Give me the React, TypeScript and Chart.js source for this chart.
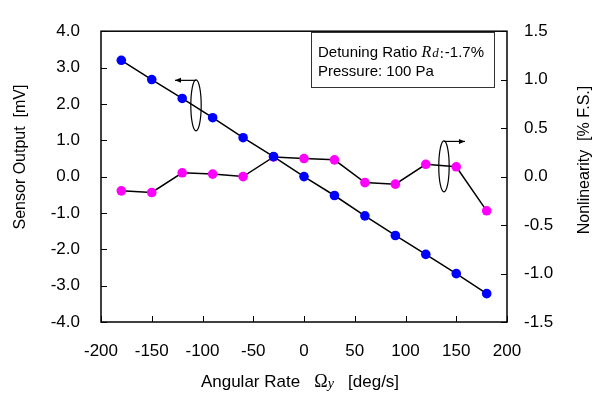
import React, { useEffect, useRef } from "react";
import { Chart, registerables } from "chart.js";

Chart.register(...registerables);

const ANGULAR_RATE = [-180, -150, -120, -90, -60, -30, 0, 30, 60, 90, 120, 150, 180];
const SENSOR_OUTPUT = [3.2, 2.67, 2.15, 1.62, 1.07, 0.55, 0.0, -0.52, -1.08, -1.62, -2.14, -2.67, -3.22];
const NONLINEARITY = [-0.147, -0.164, 0.039, 0.026, 0.0, 0.203, 0.186, 0.173, -0.062, -0.078, 0.127, 0.101, -0.353];

const X_TICKS = [-200, -150, -100, -50, 0, 50, 100, 150, 200];
const LEFT_TICKS = [-4, -3, -2, -1, 0, 1, 2, 3, 4];
const RIGHT_TICKS = [-1.5, -1.0, -0.5, 0, 0.5, 1.0, 1.5];

// annotation ellipses (data coordinates) and arrow direction
const LEFT_MARK = { x: -106.4, y: 1.96, axis: "y", dir: -1 };
const RIGHT_MARK = { x: 137.9, y: 0.105, axis: "y1", dir: 1 };

const LEGEND_LINE2 = "Pressure: 100 Pa";

const SANS = "'Liberation Sans', Arial, sans-serif";
const SERIF = "'Liberation Serif', 'Times New Roman', serif";

const decorPlugin = {
  id: "decor",
  afterDraw(chart: any) {
    const { ctx, chartArea, scales } = chart;
    const { left, right, top, bottom } = chartArea;
    ctx.save();
    // frame
    ctx.strokeStyle = "#000";
    ctx.lineWidth = 1.5;
    ctx.strokeRect(left, top, right - left, bottom - top);
    // inward ticks
    ctx.lineWidth = 1;
    ctx.beginPath();
    LEFT_TICKS.forEach((v) => {
      const y = Math.round(scales.y.getPixelForValue(v)) + 0.5;
      ctx.moveTo(left, y);
      ctx.lineTo(left + 6, y);
    });
    RIGHT_TICKS.forEach((v) => {
      const y = Math.round(scales.y1.getPixelForValue(v)) + 0.5;
      ctx.moveTo(right, y);
      ctx.lineTo(right - 6, y);
    });
    X_TICKS.forEach((v) => {
      const x = Math.round(scales.x.getPixelForValue(v)) + 0.5;
      ctx.moveTo(x, bottom);
      ctx.lineTo(x, bottom - 6);
    });
    ctx.stroke();

    // ellipses with arrows
    [LEFT_MARK, RIGHT_MARK].forEach((m) => {
      const cx = scales.x.getPixelForValue(m.x);
      const cy = scales[m.axis].getPixelForValue(m.y);
      const rx = 5.2;
      const ry = 25.5;
      ctx.lineWidth = 1.2;
      ctx.beginPath();
      ctx.ellipse(cx, cy, rx, ry, 0, 0, Math.PI * 2);
      ctx.stroke();
      const ty = cy - ry + 0.5;
      const tipX = cx + m.dir * 21;
      ctx.beginPath();
      ctx.moveTo(cx, ty);
      ctx.lineTo(tipX, ty);
      ctx.stroke();
      ctx.beginPath();
      ctx.moveTo(tipX, ty);
      ctx.lineTo(tipX - m.dir * 6, ty - 2.5);
      ctx.lineTo(tipX - m.dir * 6, ty + 2.5);
      ctx.closePath();
      ctx.fillStyle = "#000";
      ctx.fill();
    });

    // legend box
    ctx.lineWidth = 1;
    ctx.strokeStyle = "#333";
    ctx.fillStyle = "#fff";
    ctx.fillRect(311.5, 32.5, 183, 55);
    ctx.strokeRect(311.5, 32.5, 183, 55);
    ctx.fillStyle = "#000";
    ctx.textBaseline = "alphabetic";
    ctx.textAlign = "left";
    let x = 318;
    ctx.font = `15px ${SANS}`;
    const p1 = "Detuning Ratio ";
    ctx.fillText(p1, x, 56.5);
    x += ctx.measureText(p1).width;
    ctx.font = `italic 16px ${SERIF}`;
    ctx.fillText("R", x, 56.5);
    x += ctx.measureText("R").width + 1;
    ctx.font = `italic 13px ${SERIF}`;
    ctx.fillText("d", x, 56.5);
    x += ctx.measureText("d").width + 1;
    ctx.font = `15px ${SERIF}`;
    ctx.fillText(":", x, 58);
    x += ctx.measureText(":").width + 1;
    ctx.font = `15px ${SANS}`;
    ctx.fillText("-1.7%", x, 56.5);
    ctx.fillText(LEGEND_LINE2, 318, 75.5);

    // axis titles
    ctx.font = `16px ${SANS}`;
    ctx.textAlign = "center";
    ctx.textBaseline = "middle";
    ctx.save();
    ctx.translate(21, 157);
    ctx.rotate(-Math.PI / 2);
    ctx.fillText("Sensor Output  [mV]", 0, 0);
    ctx.restore();
    ctx.save();
    ctx.translate(585, 160);
    ctx.rotate(-Math.PI / 2);
    ctx.fillText("Nonlinearity  [% F.S.]", 0, 0);
    ctx.restore();

    // x title with mixed fonts
    const parts = [
      { t: "Angular Rate   ", f: `17px ${SANS}`, dy: 0 },
      { t: "\u03A9", f: `18px ${SERIF}`, dy: 0 },
      { t: "y", f: `italic 14px ${SERIF}`, dy: 1 },
      { t: "   [deg/s]", f: `17px ${SANS}`, dy: 0 },
    ];
    let total = 0;
    parts.forEach((p) => {
      ctx.font = p.f;
      total += ctx.measureText(p.t).width;
    });
    ctx.textAlign = "left";
    ctx.textBaseline = "alphabetic";
    let px = 300 - total / 2;
    parts.forEach((p) => {
      ctx.font = p.f;
      ctx.fillText(p.t, px, 387 + p.dy);
      px += ctx.measureText(p.t).width;
    });
    ctx.restore();
  },
};

export default function App() {
  const ref = useRef<HTMLCanvasElement>(null);
  useEffect(() => {
    if (!ref.current) return;
    const chart = new Chart(ref.current, {
      type: "line",
      data: {
        datasets: [
          {
            label: "Sensor Output",
            data: ANGULAR_RATE.map((x, i) => ({ x, y: SENSOR_OUTPUT[i] })),
            yAxisID: "y",
            borderColor: "#000",
            borderWidth: 1.5,
            pointBackgroundColor: "#0000FF",
            pointBorderWidth: 0,
            pointRadius: 4.8,
            tension: 0,
          },
          {
            label: "Nonlinearity",
            data: ANGULAR_RATE.map((x, i) => ({ x, y: NONLINEARITY[i] })),
            yAxisID: "y1",
            borderColor: "#000",
            borderWidth: 1.5,
            pointBackgroundColor: "#FF00FF",
            pointBorderWidth: 0,
            pointRadius: 4.8,
            tension: 0,
          },
        ],
      },
      options: {
        responsive: false,
        animation: false,
        devicePixelRatio: 1,
        layout: { padding: { top: 16, left: 0, right: 0, bottom: 0 } },
        plugins: { legend: { display: false }, tooltip: { enabled: false } },
        scales: {
          x: {
            type: "linear",
            min: -200,
            max: 200,
            grid: { display: false, drawTicks: false },
            border: { display: false },
            ticks: {
              stepSize: 50,
              padding: 19,
              color: "#000",
              font: { family: SANS, size: 17 },
              maxRotation: 0,
            },
            afterFit: (s: any) => {
              s.height = 74;
            },
          },
          y: {
            position: "left",
            min: -4,
            max: 4,
            grid: { display: false, drawTicks: false },
            border: { display: false },
            ticks: {
              stepSize: 1,
              padding: 21,
              color: "#000",
              font: { family: SANS, size: 17 },
              callback: (v: any) => Number(v).toFixed(1),
            },
            afterFit: (s: any) => {
              s.width = 101;
            },
          },
          y1: {
            position: "right",
            min: -1.5,
            max: 1.5,
            grid: { display: false, drawTicks: false },
            border: { display: false },
            ticks: {
              stepSize: 0.5,
              padding: 17,
              color: "#000",
              font: { family: SANS, size: 17 },
              callback: (v: any) => Number(v).toFixed(1),
            },
            afterFit: (s: any) => {
              s.width = 87;
            },
          },
        },
      },
      plugins: [decorPlugin],
    } as any);
    return () => chart.destroy();
  }, []);
  return (
    <div style={{ position: "fixed", left: 0, top: 0, width: 594, height: 396, background: "#fff" }}>
      <canvas ref={ref} width={594} height={396} style={{ display: "block" }} />
    </div>
  );
}
